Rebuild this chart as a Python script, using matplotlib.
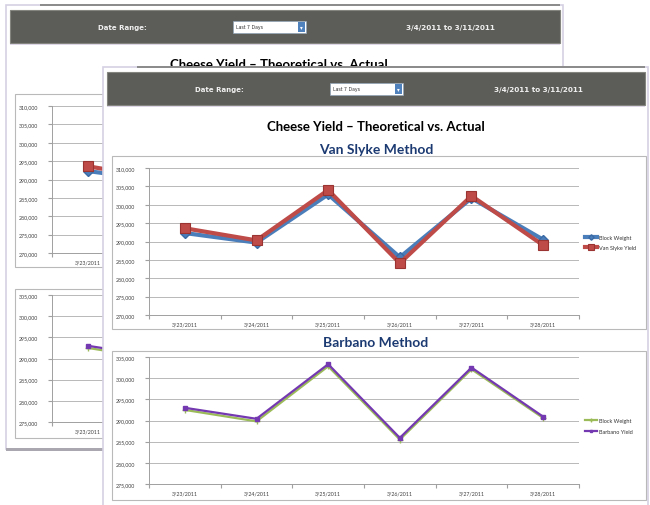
import numpy as np
import matplotlib.pyplot as plt
from matplotlib.patches import Rectangle
from matplotlib.ticker import FuncFormatter

dates = ['3/23/2011', '3/24/2011', '3/25/2011', '3/26/2011', '3/27/2011', '3/28/2011']
vs_block = [292300, 289700, 302800, 285700, 301800, 290500]
vs_yield = [293600, 290300, 304000, 284100, 302400, 289000]
bb_block = [292500, 289800, 302800, 285500, 302100, 290600]
bb_yield = [293000, 290400, 303300, 285900, 302500, 290900]

W, H = 650, 506
fig = plt.figure(figsize=(6.5, 5.06), dpi=100)
fig.patch.set_facecolor('white')


def frac(x0, y0, x1, y1):
    return [x0 / W, 1 - y1 / H, (x1 - x0) / W, (y1 - y0) / H]


def rect(x0, y0, x1, y1, fc, z, ec='none', lw=0):
    fig.add_artist(Rectangle((x0 / W, 1 - y1 / H), (x1 - x0) / W, (y1 - y0) / H,
                             transform=fig.transFigure, facecolor=fc,
                             edgecolor=ec, lw=lw, zorder=z))


def txt(x, y, s, z, **kw):
    kw.setdefault('ha', 'center')
    fig.text(x / W, 1 - y / H, s, va='center', zorder=z, **kw)


def chart(box, ylim, series, leg_y, z, legend=True):
    ax = fig.add_axes(frac(*box))
    ax.set_zorder(z)
    xs = np.arange(len(dates))
    for vals, style in series:
        ax.plot(xs, vals, **style)
    ax.set_xlim(-0.5, len(dates) - 0.5)
    ax.set_ylim(*ylim)
    ax.set_yticks(np.arange(ylim[0], ylim[1] + 1, 5000))
    ax.yaxis.set_major_formatter(FuncFormatter(lambda v, p: f'{v:,.0f}'))
    ax.set_xticks(np.arange(-0.5, len(dates)), labels=[])
    ax.set_xticks(xs, labels=dates, minor=True)
    ax.tick_params(axis='x', which='minor', length=0, labelsize=3.8, pad=5,
                   labelcolor='#404040')
    ax.tick_params(axis='x', which='major', length=3, color='#a0a0a0')
    ax.tick_params(axis='y', length=3, color='#a0a0a0', labelsize=3.8, pad=7,
                   labelcolor='#404040')
    for lab in ax.get_xticklabels(minor=True) + ax.get_yticklabels():
        lab.set_family('Lato')
    ax.grid(axis='y', color='#b8b8b8', lw=0.7)
    ax.set_axisbelow(True)
    for s in ['top', 'right']:
        ax.spines[s].set_visible(False)
    for s in ['left', 'bottom']:
        ax.spines[s].set_color('#a0a0a0')
        ax.spines[s].set_linewidth(0.7)
    if legend:
        x0, y0, x1, y1 = box
        leg = ax.legend(loc='center left', frameon=False,
                        bbox_to_anchor=((x1 + 4 - x0) / (x1 - x0),
                                        1 - (leg_y - y0) / (y1 - y0)),
                        prop={'family': 'Lato', 'size': 4}, handlelength=2.2,
                        handletextpad=0.2, labelspacing=1.0, markerscale=0.55,
                        borderaxespad=0)
        for t in leg.get_texts():
            t.set_color('#333333')
    return ax


def window(ox, oy, bottom, z, dw=0, front=True):
    # window frame and header
    rect(103 + ox, 68 + oy, 648 + ox + dw, bottom, 'white', z, '#d6d1e3', 1.2)
    rect(137 + ox, 67 + oy, 645 + ox + dw, 68.5 + oy, '#8c8c8c', z + 0.01)
    rect(107 + ox, 73 + oy, 645 + ox + dw, 106 + oy, '#5c5d58', z + 0.02, '#85857f', 0.8)
    rect(107 + ox, 106.5 + oy, 645 + ox + dw, 108 + oy, '#dcd6e6', z + 0.02)
    txt(219 + ox, 90 + oy, 'Date Range:', z + 0.1, color='#f0f0f0',
        fontsize=5, fontweight='bold', family='DejaVu Sans')
    rect(330 + ox, 84 + oy, 403 + ox, 96 + oy, 'white', z + 0.03, '#8fa3b8', 0.5)
    rect(395 + ox, 85 + oy, 402 + ox, 95 + oy, '#4f81bd', z + 0.04)
    txt(333 + ox, 90 + oy, 'Last 7 Days', z + 0.1, ha='left', color='#333333',
        fontsize=3.3, family='DejaVu Sans')
    txt(398.5 + ox, 90 + oy, '▾', z + 0.1, color='white', fontsize=4,
        family='DejaVu Sans')
    txt(538 + ox + dw * 0.75, 90 + oy, '3/4/2011 to 3/11/2011', z + 0.1,
        color='#f0f0f0', fontsize=5.2, fontweight='bold', family='DejaVu Sans')
    # titles
    txt(376 + ox, 127 + oy, 'Cheese Yield – Theoretical vs. Actual', z + 0.1,
        color='black', fontsize=9.5, fontweight='bold', family='Lato')
    if front:
        txt(376 + ox, 150 + oy, 'Van Slyke Method', z + 0.1, color='#1c3a72',
            fontsize=10, fontweight='bold', family='Lato')
        txt(376 + ox, 343 + oy, 'Barbano Method', z + 0.1, color='#1c3a72',
            fontsize=10, fontweight='bold', family='Lato')
    # chart boxes
    rect(112 + ox, 157 + oy, 646 + ox, 330 + oy, 'white', z + 0.05, '#b9b9b9', 0.8)
    rect(112 + ox, 352 + oy, 646 + ox, 501 + oy, 'white', z + 0.05, '#b9b9b9', 0.8)
    chart((149 + ox, 169 + oy, 579 + ox, 316 + oy), (270000, 310000),
          [(vs_block, dict(color='#4a7ebb', lw=3, marker='D', ms=5,
                           mec='#3a6aa5', label='Block Weight')),
           (vs_yield, dict(color='#be4b48', lw=3, marker='s', ms=7,
                           mec='#9a3432', mew=0.8, label='Van Slyke Yield'))],
          243.5 + oy, z + 0.2, legend=front)
    chart((149 + ox, 358 + oy, 579 + ox, 485 + oy), (275000, 305000),
          [(bb_block, dict(color='#9bbb59', lw=1.6, marker='+', ms=4,
                           label='Block Weight')),
           (bb_yield, dict(color='#7438b0', lw=1.6, marker='s', ms=3.5,
                           label='Barbano Yield'))],
          427 + oy, z + 0.2, legend=front)


# window behind (mostly covered), then the one in front
window(-97, -62, 450, 0, dw=12, front=False)
rect(6, 449, 563, 452, '#aaa7b0', 0.5)
window(0, 0, 510, 1)

fig.savefig('out.png', dpi=100)
